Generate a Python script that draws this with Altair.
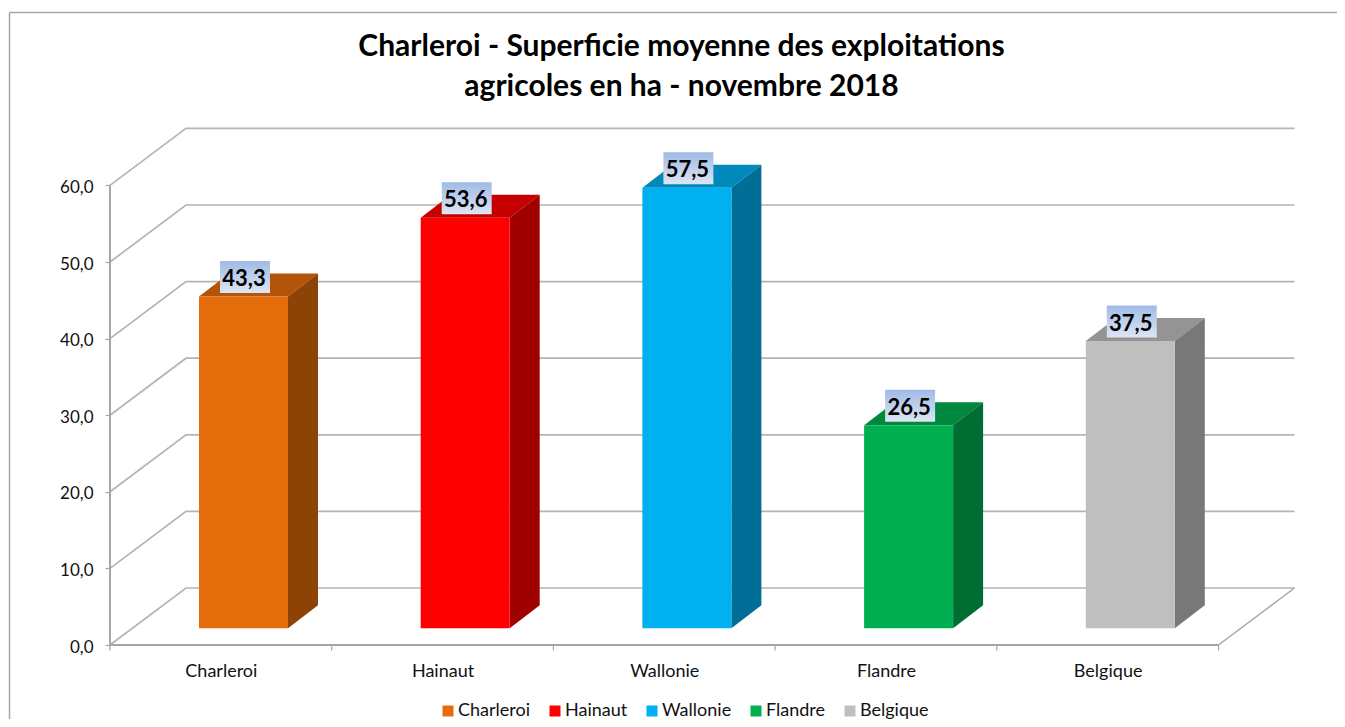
import altair as alt
import pandas as pd

categories = ["Charleroi", "Hainaut", "Wallonie", "Flandre", "Belgique"]
values = [43.3, 53.6, 57.5, 26.5, 37.5]
front_colors = ["#E46C0A", "#FF0000", "#00B0F0", "#00B050", "#BFBFBF"]
side_colors = ["#8E4306", "#A00000", "#006E96", "#006E32", "#787878"]
top_colors = ["#B35408", "#C60000", "#0089BA", "#00893E", "#949494"]
y_ticks = [0, 10, 20, 30, 40, 50, 60]
x_edges = [0, 1, 2, 3, 4, 5]
x_centres = [0.5, 1.5, 2.5, 3.5, 4.5]

W, H = 1329, 711
PX_CAT = 221.7   # px per category
PX_VAL = 7.66    # px per value unit
X0 = 102.0       # local px of the category origin
Y0 = 637.0       # local px of value 0
x_dom = [-X0 / PX_CAT, (W - X0) / PX_CAT]
y_dom = [(Y0 - H) / PX_VAL, Y0 / PX_VAL]

wall_dx = 76 / PX_CAT
wall_dy = 57 / PX_VAL
bar_left = 89 / PX_CAT
bar_w = 89 / PX_CAT
bar_base = 16.7 / PX_VAL
bar_dx = 30 / PX_CAT
bar_dy = 23 / PX_VAL
box_dx = 21 / PX_CAT
box_w = 50 / PX_CAT
box_gap = 3.5 / PX_VAL
box_h = 32 / PX_VAL

xs = alt.Scale(domain=x_dom, nice=False, zero=False)
ys = alt.Scale(domain=y_dom, nice=False, zero=False)
GRID = "#B4B4B4"
AXIS = "#A6A6A6"
TEXT = "#111111"
FONT = "Lato"

y_axis_def = alt.Axis(
    values=y_ticks, offset=-X0, domain=False, grid=False, title=None, tickColor=AXIS,
    tickSize=5, tickWidth=1.2, labelFont=FONT, labelFontSize=17, labelColor=TEXT,
    labelPadding=12, labelOffset=2, labelExpr="replace(format(datum.value, '.1f'), '.', ',')",
)
x_axis_def = alt.Axis(
    values=x_centres, offset=-(H - Y0), domain=False, grid=False, title=None, ticks=False,
    labelFont=FONT, labelFontSize=18, labelColor=TEXT, labelPadding=17,
    labelExpr="%s[round(datum.value - 0.5)]" % str(categories),
)


def X(f="x", **k):
    return alt.X(f"{f}:Q", scale=xs, axis=x_axis_def, **k)


def Y(f="y", **k):
    return alt.Y(f"{f}:Q", scale=ys, axis=y_axis_def, **k)


# gridlines, wall and floor
grid_rows = []
for v in y_ticks:
    grid_rows += [
        {"g": v, "o": 0, "x": 0, "y": v},
        {"g": v, "o": 1, "x": wall_dx, "y": v + wall_dy},
        {"g": v, "o": 2, "x": 5 + wall_dx, "y": v + wall_dy},
    ]
grid = alt.Chart(pd.DataFrame(grid_rows)).mark_line(color=GRID, strokeWidth=1.7).encode(
    x=X(), y=Y(), detail="g:N", order="o:Q"
)
floor_edge = alt.Chart(pd.DataFrame({"x": [5, 5 + wall_dx], "y": [0, wall_dy]})).mark_line(
    color=AXIS, strokeWidth=1.5
).encode(x=X(), y=Y())

# frame (left and top edges run off the picture)
frame_l = alt.Chart(pd.DataFrame({"a": [0]})).mark_rule(color="#A6A6A6", strokeWidth=1.5).encode(
    x=alt.value(1.5), y=alt.value(4.5), y2=alt.value(H)
)
frame_t = alt.Chart(pd.DataFrame({"a": [0]})).mark_rule(color="#A6A6A6", strokeWidth=1.5).encode(
    y=alt.value(4.5), x=alt.value(1.5), x2=alt.value(W)
)

# axis lines and boundary ticks
axis_v = alt.Chart(pd.DataFrame({"x": [0], "y": [y_ticks[0]], "y2": [y_ticks[-1]]})).mark_rule(
    color=AXIS, strokeWidth=2).encode(x=X(), y=Y(), y2="y2:Q")
axis_h = alt.Chart(pd.DataFrame({"x": [0], "x2": [5], "y": [0]})).mark_rule(
    color=AXIS, strokeWidth=2).encode(x=X(), x2="x2:Q", y=Y())
ticks_df = pd.DataFrame({"x": x_edges, "y": [0.0] * 6, "y2": [-5.5 / PX_VAL] * 6})
x_ticks = alt.Chart(ticks_df).mark_rule(color=AXIS, strokeWidth=1.2).encode(x=X(), y=Y(), y2="y2:Q")

# bars
front, side, top, boxes = [], [], [], []
for i, (c, v) in enumerate(zip(categories, values)):
    l = i + bar_left
    r = l + bar_w
    t = bar_base + v
    front.append({"cat": c, "x": l, "x2": r, "y": bar_base, "y2": t})
    side += [
        {"cat": c, "x": r, "y": bar_base, "y2": t},
        {"cat": c, "x": r + bar_dx, "y": bar_base + bar_dy, "y2": t + bar_dy},
    ]
    top += [
        {"cat": c, "x": l, "y": t, "y2": t},
        {"cat": c, "x": l + bar_dx, "y": t, "y2": t + bar_dy},
        {"cat": c, "x": r, "y": t, "y2": t + bar_dy},
        {"cat": c, "x": r + bar_dx, "y": t + bar_dy, "y2": t + bar_dy},
    ]
    boxes.append({
        "cat": c, "x": l + box_dx, "x2": l + box_dx + box_w,
        "y": t + box_gap, "y2": t + box_gap + box_h,
        "xm": l + box_dx + box_w / 2, "ym": t + box_gap + box_h / 2,
        "lbl": f"{v:.1f}".replace(".", ","),
    })

top_l = alt.Chart(pd.DataFrame(top)).mark_area(orient="vertical").encode(
    x=X(), y=Y(stack=False), y2="y2:Q",
    color=alt.Color("cat:N", scale=alt.Scale(domain=categories, range=top_colors), legend=None),
    detail="cat:N",
)
side_l = alt.Chart(pd.DataFrame(side)).mark_area(orient="vertical").encode(
    x=X(), y=Y(stack=False), y2="y2:Q",
    color=alt.Color("cat:N", scale=alt.Scale(domain=categories, range=side_colors), legend=None),
    detail="cat:N",
)
front_l = alt.Chart(pd.DataFrame(front)).mark_rect().encode(
    x=X(), x2="x2:Q", y=Y(), y2="y2:Q",
    color=alt.Color("cat:N", scale=alt.Scale(domain=categories, range=front_colors), sort=categories,
                    legend=alt.Legend(
                        title=None, orient="none", legendX=431, legendY=694, direction="horizontal",
                        columns=5, columnPadding=15, symbolType="square", symbolSize=121,
                        symbolStrokeWidth=0, symbolOpacity=1, labelFont=FONT, labelFontSize=18,
                        labelColor=TEXT, labelOffset=1)),
)
grad = alt.Gradient(gradient="linear", x1=0, x2=0, y1=0, y2=1, stops=[
    alt.GradientStop(color="#A0BAE6", offset=0),
    alt.GradientStop(color="#DDE6F3", offset=1),
])
box_l = alt.Chart(pd.DataFrame(boxes)).mark_rect(color=grad).encode(
    x=X(), x2="x2:Q", y=Y(), y2="y2:Q"
)
txt_l = alt.Chart(pd.DataFrame(boxes)).mark_text(
    font=FONT, fontWeight="bold", fontSize=22, color="#000000", baseline="middle", align="center",
    dx=-1, dy=2,
).encode(x=X("xm"), y=Y("ym"), text="lbl:N")

chart = alt.layer(
    frame_l, frame_t, grid, floor_edge, axis_v, axis_h, x_ticks,
    top_l, side_l, front_l, box_l, txt_l,
).resolve_scale(color="independent").properties(
    width=W, height=H, padding=0,
    autosize=alt.AutoSizeParams(type="none"),
    title=alt.TitleParams(
        text=["Charleroi - Superficie moyenne des exploitations", "agricoles en ha - novembre 2018"],
        font=FONT, fontSize=30, fontWeight="bold", color="#000000",
        anchor="middle", frame="group", offset=-94, dx=9, lineHeight=40,
    ),
).configure_view(stroke=None)

chart.save("out.html", embed_options={"renderer": "svg", "actions": False})
